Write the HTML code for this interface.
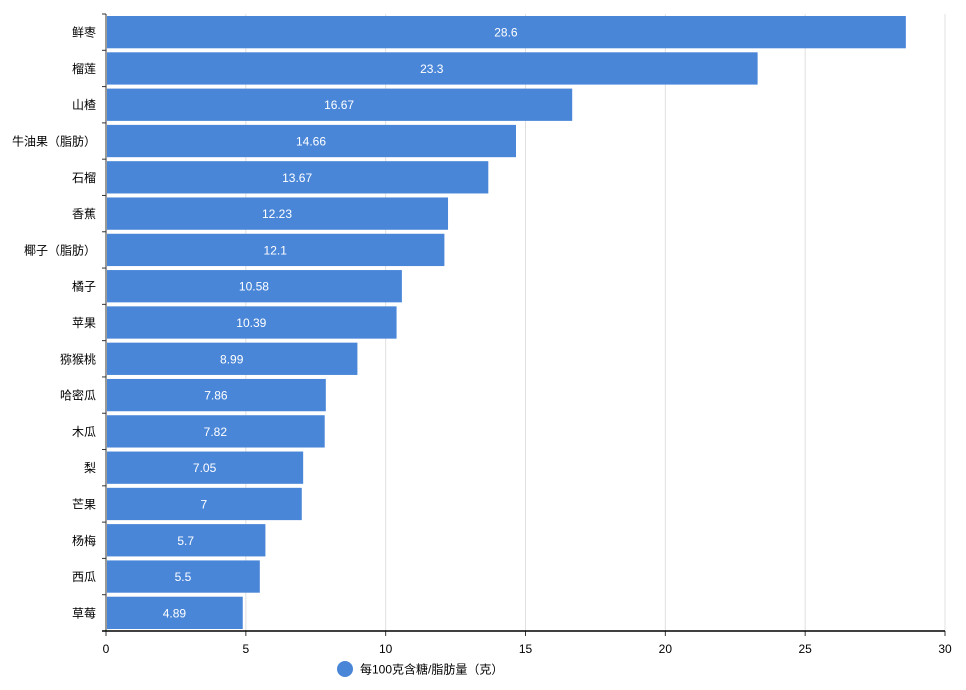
<!DOCTYPE html>
<html><head><meta charset="utf-8"><style>
body{margin:0;background:#fff}
text{font-family:"Liberation Sans","Noto Sans CJK SC",sans-serif}
</style></head><body>
<svg id="c" width="966" height="685"></svg>
<script>
const categories=["鲜枣","榴莲","山楂","牛油果（脂肪）","石榴","香蕉","椰子（脂肪）","橘子","苹果","猕猴桃","哈密瓜","木瓜","梨","芒果","杨梅","西瓜","草莓"];
const values=[28.6,23.3,16.67,14.66,13.67,12.23,12.1,10.58,10.39,8.99,7.86,7.82,7.05,7,5.7,5.5,4.89];
const xTicks=[0,5,10,15,20,25,30];
const seriesName="每100克含糖/脂肪量（克）";
const svg=document.getElementById('c');
const NS="http://www.w3.org/2000/svg";
const L=106,R=945,T=14,B=631;
const x=v=>L+(v/30)*(R-L);
const step=(B-T)/categories.length;
const y=i=>T+i*step;
function mk(tag,attrs,txt){const e=document.createElementNS(NS,tag);for(const k in attrs)e.setAttribute(k,attrs[k]);if(txt!==undefined)e.textContent=txt;svg.appendChild(e);return e;}
xTicks.forEach(t=>{
 if(t>0){const g=mk('line',{x1:x(t),x2:x(t),y1:T,y2:B,stroke:'#e0e0e0','stroke-width':1});
 
 }
 const tl=mk('text',{x:x(t),y:B+22,'text-anchor':'middle','font-size':12,fill:'#000'},String(t));
 
 
 const tk=mk('line',{x1:x(t),x2:x(t),y1:B,y2:B+5,stroke:'#333'});
 
 
});
categories.forEach((c,i)=>{
 const b=mk('rect',{x:L+1,y:y(i)+2,width:x(values[i])-L-1,height:step-4,fill:'#4a86d8'});
 
 
 const vl=mk('text',{x:(L+x(values[i]))/2,y:y(i)+step/2+4.5,'text-anchor':'middle','font-size':12,fill:'#fff'},String(values[i]));
 
 
 const cl=mk('text',{x:96,y:y(i)+step/2+4.5,'text-anchor':'end','font-size':12,fill:'#000'},c);
 
 
});
for(let i=0;i<=categories.length;i++){
 const tk=mk('line',{x1:L-4,x2:L,y1:y(i),y2:y(i),stroke:'#333'});
 
 
}
const ya=mk('line',{x1:L,x2:L,y1:T,y2:B,stroke:'#333'});


const xa=mk('line',{x1:L-4,x2:R,y1:B,y2:B,stroke:'#000','stroke-width':1.5});


const lc=mk('circle',{cx:345,cy:669,r:8,fill:'#4a86d8'});


const lt=mk('text',{x:360,y:673.5,'font-size':12,fill:'#000'},seriesName);


</script>
</body></html>
